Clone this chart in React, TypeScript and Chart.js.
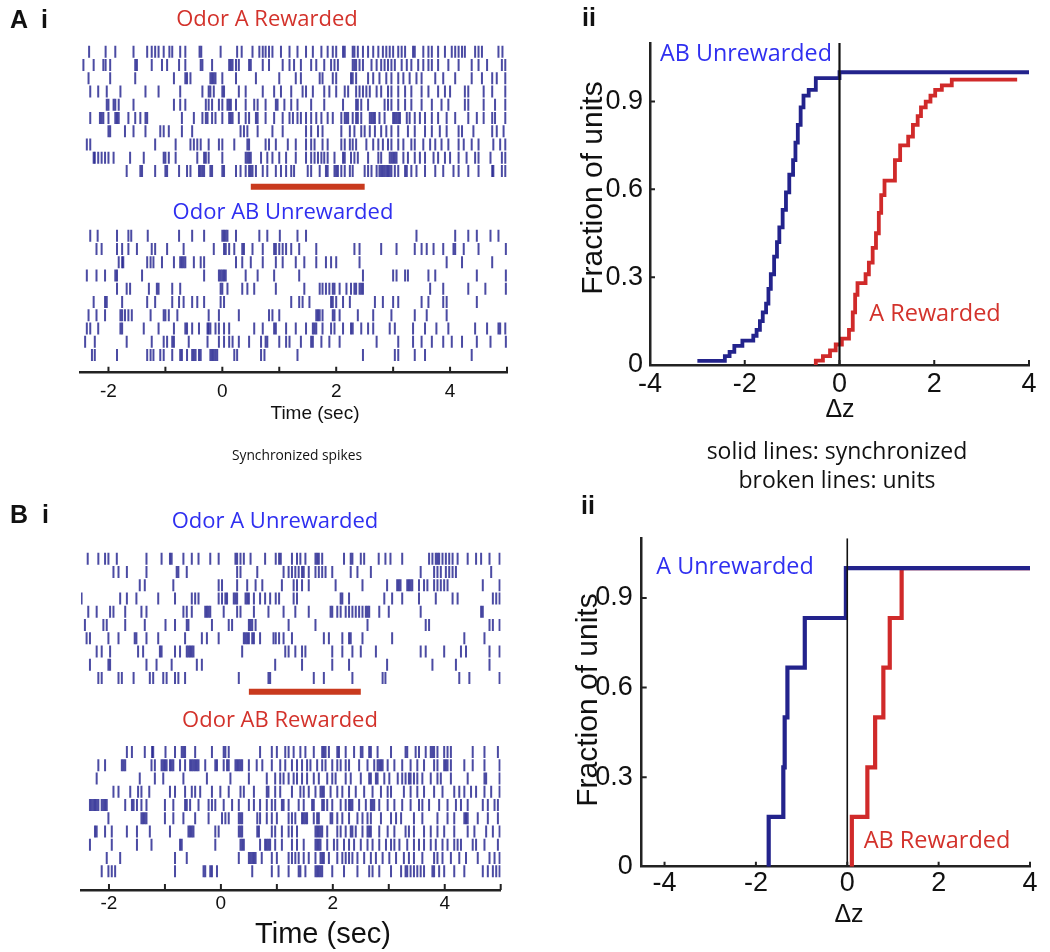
import React, { useEffect, useRef } from 'react';
import { Chart, registerables } from 'chart.js';

Chart.register(...registerables);

// ---------- axis ticks ----------
const timeTicks = [-2, -1, 0, 1, 2, 3, 4, 5];
const cdfXTicks = [-4, -2, 0, 2, 4];
const cdfYTicks = [0, 0.3, 0.6, 0.9];
const odorWindow = [0.5, 2.5];

// ---------- A i : spike times (s), one list per trial row ----------
const aRewardedRows: number[][] = [
  [-2.34,-2.05,-1.88,-1.56,-1.32,-1.24,-1.18,-1.12,-1.03,-0.93,-0.88,-0.74,-0.65,-0.4,-0.37,-0.03,0.26,0.34,0.53,0.65,0.71,0.76,0.82,0.88,1.03,1.18,1.32,1.47,1.59,1.74,1.85,1.94,2.0,2.12,2.15,2.29,2.32,2.38,2.47,2.56,2.65,2.74,2.82,2.88,2.94,3.0,3.09,3.15,3.21,3.35,3.38,3.53,3.62,3.68,3.79,3.91,4.03,4.09,4.15,4.21,4.26,4.44,4.5,4.56,4.85,4.92],
  [-2.44,-2.26,-2.09,-2.05,-1.97,-1.53,-1.5,-1.24,-1.06,-0.97,-0.76,-0.65,-0.38,-0.35,-0.18,0.12,0.15,0.18,0.24,0.29,0.47,0.5,0.71,0.82,1.06,1.18,1.26,1.38,1.56,1.65,1.79,1.91,1.97,2.03,2.29,2.32,2.35,2.41,2.47,2.62,2.71,2.79,2.85,2.91,2.97,3.03,3.15,3.24,3.32,3.44,3.53,3.62,3.68,3.79,3.97,4.15,4.38,4.5,4.65,4.91,4.97],
  [-2.35,-1.97,-1.53,-0.85,-0.65,-0.62,-0.56,-0.21,-0.18,-0.15,-0.12,0,0.24,0.59,1.0,1.29,1.38,1.71,1.76,1.94,2.0,2.26,2.29,2.35,2.56,2.65,2.76,2.88,2.97,3.09,3.18,3.29,3.41,3.5,3.74,3.88,4.09,4.38,4.56,4.74,4.82,4.97],
  [-2.32,-2.18,-2.03,-1.79,-1.35,-1.12,-0.74,-0.35,-0.24,-0.21,-0.15,0,0.03,0.29,0.41,0.71,0.91,1.03,1.21,1.41,1.47,1.59,1.79,1.88,2.0,2.15,2.21,2.35,2.41,2.47,2.53,2.59,2.71,2.79,2.91,2.97,3.09,3.21,3.32,3.5,3.62,3.79,3.91,4.0,4.26,4.32,4.59,4.74,4.97],
  [-2.03,-2.0,-1.91,-1.88,-1.82,-1.56,-0.85,-0.74,-0.65,-0.29,-0.24,-0.18,-0.06,0,0.09,0.12,0.15,0.24,0.41,0.56,0.62,0.76,0.94,0.97,1.09,1.21,1.32,1.56,1.79,2.12,2.35,2.38,2.44,2.56,2.85,2.91,2.97,3.09,3.21,3.32,3.5,3.68,3.85,3.97,4.26,4.32,4.59,4.79,4.97],
  [-2.32,-2.15,-2.12,-2.09,-2.0,-1.88,-1.85,-1.82,-1.65,-1.53,-1.44,-1.35,-1.32,-0.71,-0.5,-0.35,-0.29,-0.26,-0.18,-0.12,0,0.12,0.15,0.18,0.29,0.41,0.47,0.59,0.62,0.76,0.91,1.06,1.18,1.24,1.32,1.38,1.47,1.56,1.65,1.74,1.85,1.94,2.09,2.15,2.18,2.21,2.29,2.35,2.38,2.44,2.59,2.62,2.65,2.68,2.76,2.85,3.0,3.03,3.06,3.09,3.12,3.24,3.29,3.38,3.47,3.56,3.68,3.79,3.94,4.09,4.32,4.47,4.59,4.74,4.79,4.97],
  [-2.0,-1.97,-1.71,-1.56,-1.35,-1.09,-1.03,-0.94,-0.71,-0.53,0.32,0.38,0.44,0.62,0.88,1.06,1.47,1.56,1.68,1.76,2.09,2.24,2.32,2.44,2.5,2.59,2.68,2.79,2.88,2.97,3.09,3.26,3.38,3.56,3.68,3.82,3.94,4.15,4.21,4.41,4.74,4.82,4.94],
  [-2.38,-2.32,-1.18,-0.82,-0.56,-0.5,-0.44,-0.38,-0.24,-0.06,0,0.21,0.44,0.47,0.76,0.82,0.94,1.15,1.29,1.47,1.56,1.62,1.76,1.85,2.09,2.15,2.24,2.29,2.35,2.53,2.65,2.74,2.82,2.91,2.97,3.09,3.18,3.32,3.38,3.53,3.65,3.74,3.85,3.97,4.15,4.24,4.38,4.5,4.76,4.88,4.97],
  [-2.26,-2.24,-2.18,-2.12,-2.06,-2.0,-1.91,-1.62,-1.38,-1.03,-1.0,-0.94,-0.82,-0.44,-0.32,-0.29,-0.24,0,0.41,0.44,0.47,0.5,0.68,0.79,0.88,1.0,1.12,1.29,1.47,1.56,1.62,1.68,1.74,1.79,1.85,1.97,2.12,2.15,2.26,2.32,2.38,2.56,2.74,2.79,2.94,2.97,3.0,3.03,3.06,3.18,3.26,3.38,3.47,3.56,3.71,3.79,3.91,4.0,4.15,4.29,4.44,4.5,4.71,4.91,4.97],
  [-1.68,-1.44,-1.41,-1.18,-1.0,-0.97,-0.76,-0.62,-0.56,-0.41,-0.38,-0.35,-0.32,-0.21,-0.18,0,0.03,0.24,0.32,0.41,0.47,0.5,0.53,0.59,0.71,0.79,0.94,1.03,1.12,1.21,1.26,1.5,1.56,1.71,1.82,1.85,1.97,2.0,2.03,2.09,2.15,2.24,2.29,2.5,2.56,2.62,2.71,2.76,2.79,2.82,2.85,2.88,2.91,2.94,2.97,3.03,3.09,3.21,3.24,3.32,3.41,3.56,3.74,3.88,4.06,4.15,4.32,4.5,4.74,4.76,4.91,4.97],
];

const abUnrewardedRows: number[][] = [
  [-2.32,-2.19,-1.85,-1.65,-1.6,-1.31,-0.76,-0.53,-0.32,0,0.03,0.06,0.09,0.24,0.65,0.79,1.01,1.32,1.47,3.41,4.09,4.32,4.47,4.71,4.85],
  [-2.21,-2.12,-1.85,-1.76,-1.65,-1.5,-1.24,-1.18,-0.97,-0.68,-0.15,0.03,0.06,0.12,0.21,0.35,0.38,0.53,0.71,0.91,0.94,1.0,1.06,1.12,1.21,1.35,1.65,2.32,2.41,2.79,3.06,3.38,3.5,3.59,3.71,3.88,4.06,4.09,4.24,4.5,4.98],
  [-1.82,-1.76,-1.74,-1.32,-1.26,-1.21,-1.06,-0.85,-0.74,-0.71,-0.68,-0.65,-0.5,-0.38,-0.32,0.24,0.35,0.5,0.71,0.94,1.06,1.29,1.44,1.65,1.82,1.91,2.0,2.41,3.94,4.21,4.74],
  [-2.38,-2.21,-2.06,-1.88,-1.85,-1.41,-0.32,-0.06,-0.03,0,0.03,0.06,0.41,0.62,0.91,1.35,2.47,3.0,3.06,3.21,3.26,3.62,3.74,4.47,4.98],
  [-1.85,-1.68,-1.62,-1.29,-1.15,-1.12,-0.88,-0.74,-0.03,0,0.09,0.35,0.44,0.56,0.94,1.44,1.71,1.76,1.82,1.88,1.94,1.97,2.06,2.18,2.26,2.32,2.35,2.41,2.44,2.47,3.65,3.88,4.32,4.62,4.98],
  [-2.26,-2.06,-2.03,-1.76,-1.32,-1.18,-0.88,-0.76,-0.68,-0.53,-0.44,-0.32,-0.03,0.03,1.21,1.35,1.41,1.53,1.91,1.94,2.0,2.12,2.24,2.68,2.82,3.0,3.09,3.5,3.62,3.88,3.94,4.47],
  [-2.35,-2.21,-2.06,-1.79,-1.76,-1.71,-1.65,-1.59,-1.26,-1.03,-1.0,-0.94,-0.79,-0.24,-0.06,0.29,0.82,0.88,1.0,1.65,1.68,1.71,1.76,1.94,1.97,2.06,2.38,2.65,2.97,3.38,3.59,3.94],
  [-2.38,-2.32,-2.18,-1.79,-1.76,-1.38,-1.12,-0.85,-0.65,-0.62,-0.53,-0.41,-0.26,-0.24,-0.21,-0.12,-0.06,0.03,0.12,0.56,0.71,0.91,0.94,1.12,1.29,1.47,1.59,1.62,1.65,1.76,1.91,1.97,2.12,2.26,2.29,2.44,2.56,2.65,2.94,3.03,3.35,3.56,3.76,3.97,4.44,4.65,4.85,4.88,4.97],
  [-2.41,-2.24,-1.68,-1.24,-1.03,-0.97,-0.88,-0.85,-0.59,-0.26,-0.06,0.03,0.12,0.18,0.29,0.47,0.68,0.76,0.79,1.0,1.12,1.18,1.38,1.56,1.59,1.74,1.88,2.06,2.71,3.09,3.35,3.5,3.68,3.88,4.03,4.21,4.47,4.71,4.98],
  [-2.29,-2.24,-1.85,-1.32,-1.26,-1.21,-1.09,-1.03,-0.88,-0.74,-0.71,-0.62,-0.53,-0.5,-0.47,-0.41,-0.38,-0.21,-0.18,-0.15,-0.12,-0.09,0.21,0.26,0.68,0.74,1.32,2.47,3.03,3.09,3.38,3.56,4.38],
];

// ---------- B i ----------
const aUnrewardedRows: number[][] = [
  [-2.38,-2.19,-2.07,-2.01,-1.86,-1.33,-1.06,-0.91,-0.88,-0.67,-0.52,-0.4,-0.19,-0.04,0.26,0.29,0.35,0.41,0.53,0.79,0.98,1.04,1.07,1.27,1.36,1.42,1.51,1.69,1.72,1.75,1.81,2.2,2.32,2.35,2.5,2.56,2.82,2.94,3.03,3.24,3.72,3.78,3.84,3.87,3.9,3.96,4.02,4.08,4.14,4.23,4.41,4.56,4.65,4.8,4.98],
  [-1.92,-1.83,-1.68,-1.33,-0.79,-0.76,-0.61,0.29,0.35,0.65,1.12,1.21,1.27,1.33,1.39,1.45,1.48,1.57,1.69,1.75,1.81,1.87,1.99,2.32,2.44,2.68,3.57,3.81,3.87,3.93,4.02,4.08,4.14,4.2,4.83],
  [-1.45,-1.36,-0.85,-0.04,0.02,0.29,0.47,0.62,0.74,1.09,1.3,1.36,1.45,1.57,2.05,2.53,2.97,3.15,3.18,3.21,3.33,3.36,3.39,3.42,3.54,3.63,3.69,3.81,3.87,3.93,3.99,4.05,4.68,4.98],
  [-2.49,-1.8,-1.68,-1.51,-1.12,-0.82,-0.52,-0.46,-0.4,-0.04,0.02,0.08,0.11,0.23,0.26,0.29,0.44,0.47,0.5,0.59,0.7,0.79,0.88,0.98,1.04,1.3,1.36,2.14,2.17,2.29,2.92,3.06,3.24,3.54,3.84,4.14,4.23,4.86,4.92,4.98],
  [-2.37,-2.22,-1.98,-1.92,-1.71,-1.42,-1.33,-0.67,-0.61,-0.52,-0.28,-0.25,-0.22,-0.19,0.05,0.29,0.35,0.59,0.85,1.12,1.33,1.57,1.96,1.99,2.08,2.14,2.23,2.29,2.35,2.41,2.47,2.53,2.59,2.62,2.65,2.83,3.0,3.57,4.65,4.68],
  [-2.43,-2.1,-2.04,-1.71,-1.36,-0.99,-0.82,-0.61,-0.58,-0.16,0.14,0.2,0.5,0.53,0.56,0.62,1.21,1.69,2.62,3.66,3.72,4.8,4.86,4.98],
  [-2.4,-2.34,-2.01,-1.83,-1.54,-1.51,-1.33,-1.12,-0.64,-0.34,-0.25,-0.04,0.41,0.44,0.47,0.5,0.56,0.59,0.7,0.94,0.98,1.04,1.12,1.27,1.84,1.93,2.17,2.29,2.32,2.53,3.06,4.35,4.71],
  [-2.22,-2.13,-1.98,-1.48,-1.39,-1.09,-1.06,-0.82,-0.73,-0.61,-0.58,-0.55,-0.52,-0.49,0.38,1.15,1.21,1.33,1.45,1.51,1.99,2.17,2.35,2.5,2.77,3.57,3.66,3.99,4.29,4.38,4.8,4.98],
  [-2.34,-2.01,-1.98,-1.33,-1.15,-0.88,-0.43,-0.34,0.97,1.45,1.99,2.29,2.97,3.78,4.2,4.8],
  [-2.19,-2.13,-1.83,-1.77,-1.56,-1.27,-1.21,-1.03,-0.97,-0.82,-0.76,-0.64,0.32,0.85,0.88,1.66,1.84,2.35,2.89,2.94,4.26,4.44,4.98],
];

const abRewardedRows: number[][] = [
  [-1.68,-1.59,-1.36,-1.23,-1.21,-0.99,-0.82,-0.7,-0.67,-0.64,-0.46,-0.16,0.05,0.08,0.14,0.7,0.91,1.0,1.15,1.21,1.3,1.42,1.51,1.66,1.81,1.84,1.87,1.93,2.08,2.11,2.23,2.38,2.5,2.53,2.65,2.68,2.8,3.04,3.3,3.33,3.48,3.54,3.66,3.75,3.78,3.81,3.87,3.99,4.05,4.11,4.5,4.71,4.95],
  [-2.19,-2.07,-1.77,-1.74,-1.71,-1.24,-1.18,-1.06,-1.03,-1.0,-0.97,-0.91,-0.88,-0.85,-0.73,-0.64,-0.55,-0.52,-0.49,-0.46,-0.43,-0.4,-0.28,-0.1,-0.07,0.05,0.11,0.14,0.26,0.29,0.32,0.35,0.38,0.5,0.64,0.74,0.91,1.06,1.15,1.27,1.36,1.45,1.54,1.6,1.72,1.81,1.87,1.99,2.08,2.14,2.23,2.29,2.47,2.62,2.74,2.8,2.83,2.86,2.89,2.98,3.1,3.24,3.39,3.51,3.63,3.81,3.87,3.99,4.02,4.05,4.11,4.35,4.5,4.71,4.98],
  [-2.22,-1.45,-1.18,-1.03,-0.67,-0.25,0.17,0.5,0.82,0.97,1.06,1.12,1.21,1.3,1.36,1.45,1.54,1.66,1.75,1.9,1.99,2.05,2.23,2.32,2.5,2.65,2.68,2.77,2.8,2.92,3.01,3.16,3.24,3.3,3.36,3.39,3.45,3.51,3.6,3.75,3.87,3.93,4.11,4.41,4.71,4.74,4.98],
  [-1.92,-1.83,-1.62,-1.48,-1.42,-1.28,-0.91,-0.82,-0.64,-0.52,-0.46,-0.37,-0.16,-0.01,0.14,0.35,0.41,0.59,0.82,0.85,0.97,1.06,1.27,1.42,1.48,1.57,1.69,1.78,1.81,1.84,1.96,2.08,2.17,2.29,2.41,2.56,2.71,2.86,2.98,3.04,3.27,3.39,3.51,3.63,3.81,3.96,4.17,4.26,4.35,4.47,4.56,4.71,4.83,4.98],
  [-2.34,-2.31,-2.28,-2.25,-2.22,-2.19,-2.13,-2.1,-2.07,-2.04,-1.71,-1.59,-1.56,-1.5,-1.42,-1.33,-1.0,-0.85,-0.64,-0.61,-0.55,-0.4,-0.22,-0.16,-0.1,0.05,0.2,0.32,0.5,0.59,0.7,0.82,0.91,0.97,1.09,1.12,1.21,1.39,1.48,1.63,1.66,1.81,1.84,1.9,1.99,2.14,2.23,2.29,2.32,2.35,2.47,2.59,2.68,2.71,2.74,2.83,2.98,3.1,3.24,3.39,3.54,3.6,3.72,3.9,4.05,4.2,4.29,4.41,4.68,4.77,4.89,4.95],
  [-2.01,-1.42,-1.39,-1.36,-1.33,-1.0,-0.85,-0.67,-0.46,-0.22,0.02,0.08,0.14,0.32,0.35,0.38,0.65,0.7,0.82,0.91,1.0,1.21,1.27,1.33,1.45,1.48,1.51,1.54,1.66,1.72,1.75,1.96,1.99,2.08,2.17,2.29,2.44,2.53,2.62,2.68,2.86,3.04,3.13,3.22,3.45,3.6,3.87,4.05,4.17,4.35,4.38,4.41,4.59,4.77,4.95],
  [-2.25,-2.22,-2.07,-1.95,-1.68,-1.5,-1.27,-0.91,-0.58,-0.55,-0.52,-0.49,-0.1,-0.04,0.32,0.35,0.38,0.65,0.68,0.91,0.97,1.09,1.21,1.27,1.36,1.69,1.72,1.75,1.78,1.81,1.9,2.08,2.14,2.23,2.32,2.35,2.41,2.53,2.62,2.65,2.68,2.83,2.98,3.1,3.3,3.36,3.45,3.63,3.75,3.87,3.99,4.17,4.41,4.53,4.74,4.86,4.98],
  [-2.34,-1.95,-1.5,-1.24,-0.73,-0.7,-0.1,0.35,0.38,0.41,0.7,0.79,0.82,0.85,0.88,0.97,1.09,1.27,1.36,1.48,1.69,1.72,1.75,1.78,1.9,2.02,2.08,2.2,2.29,2.38,2.5,2.62,2.71,2.83,2.95,3.04,3.1,3.19,3.33,3.45,3.54,3.63,3.75,3.84,3.96,4.05,4.17,4.23,4.29,4.5,4.56,4.71,4.95],
  [-2.04,-1.8,-0.82,-0.61,0.32,0.5,0.53,0.56,0.59,0.62,0.73,0.91,1.0,1.21,1.27,1.33,1.39,1.48,1.57,1.69,1.78,1.81,1.84,1.93,2.08,2.17,2.23,2.29,2.35,2.44,2.56,2.68,2.77,2.89,3.01,3.13,3.27,3.36,3.45,3.6,3.81,3.87,3.96,4.11,4.26,4.38,4.59,4.8,4.89,4.98],
  [-2.13,-2.01,-1.95,-1.89,-0.82,-0.31,-0.28,-0.19,-0.16,-0.07,0.56,0.91,1.03,1.21,1.39,1.42,1.51,1.69,1.72,1.75,1.78,1.81,1.99,2.2,2.44,2.65,2.71,2.83,3.04,3.22,3.3,3.33,3.39,3.45,3.51,3.57,3.63,3.78,3.81,3.9,3.99,4.17,4.35,4.68,4.77,4.86,4.92,4.98],
];

// ---------- A ii : cumulative fraction of units vs Δz ----------
const aiiUnrewardedDz = [-3.0,-2.42,-2.32,-2.22,-2.05,-1.82,-1.75,-1.68,-1.62,-1.55,-1.5,-1.45,-1.38,-1.32,-1.27,-1.2,-1.13,-1.06,-0.98,-0.93,-0.88,-0.82,-0.76,-0.65,-0.5,0.0,4.0];
const aiiUnrewardedFrac = [0.014,0.03,0.045,0.065,0.083,0.1,0.12,0.15,0.18,0.21,0.26,0.31,0.37,0.42,0.47,0.53,0.59,0.65,0.7,0.76,0.82,0.88,0.92,0.94,0.98,1.0,1.0];
const aiiRewardedDz = [-0.52,-0.5,-0.35,-0.2,-0.08,0.05,0.2,0.28,0.33,0.38,0.55,0.62,0.7,0.77,0.83,0.88,0.95,1.17,1.28,1.45,1.55,1.65,1.72,1.82,1.92,2.02,2.16,2.37,3.75];
const aiiRewardedFrac = [0.0,0.015,0.03,0.05,0.07,0.09,0.12,0.18,0.24,0.28,0.31,0.35,0.4,0.45,0.52,0.58,0.63,0.7,0.75,0.78,0.82,0.85,0.88,0.9,0.92,0.94,0.955,0.975,0.975];

// ---------- B ii ----------
const biiUnrewardedDz = [-1.72,-1.72,-1.4,-1.37,-1.31,-0.93,-0.03,4.0];
const biiUnrewardedFrac = [0,0.167,0.333,0.5,0.667,0.833,1.0,1.0];
const biiRewardedDz = [0.1,0.1,0.44,0.61,0.79,0.93,1.19,4.0];
const biiRewardedFrac = [0,0.167,0.333,0.5,0.667,0.833,1.0,1.0];

// ---------- styles ----------
const SPIKE = 'rgba(30,30,140,0.8)';
const BAR = '#c93a1e';
const NAVY = '#23238c';
const RED = '#d02a2a';
const TXT_BLUE = '#2f2ff0';
const TXT_RED = '#d3322b';
const AXIS = '#222';
const TICK_FONT = "'Liberation Sans', Arial, Helvetica, sans-serif";
const NARROW_FONT = "'Liberation Sans Narrow', 'Arial Narrow', 'Liberation Sans', sans-serif";
const MYRIAD = "'Open Sans', 'Noto Sans', sans-serif";

const inwardTicks = {
  id: 'inwardTicks',
  afterDatasetsDraw(chart: any, _a: any, opts: any) {
    if (!opts || !opts.len) return;
    const { ctx, chartArea, scales } = chart;
    ctx.save();
    ctx.strokeStyle = opts.color || AXIS;
    ctx.lineWidth = opts.width || 2;
    ctx.beginPath();
    (opts.x || []).forEach((v: number) => {
      const px = scales.x.getPixelForValue(v);
      ctx.moveTo(px, chartArea.bottom);
      ctx.lineTo(px, chartArea.bottom - opts.len);
    });
    (opts.y || []).forEach((v: number) => {
      const py = scales.y.getPixelForValue(v);
      ctx.moveTo(chartArea.left, py);
      ctx.lineTo(chartArea.left + opts.len, py);
    });
    ctx.stroke();
    ctx.restore();
  },
};

const rowPoints = (rows: number[][], firstRow: number) =>
  rows.flatMap((row, k) => row.map((x) => ({ x, y: firstRow + k })));

const toPoints = (xs: number[], ys: number[]) => xs.map((x, i) => ({ x, y: ys[i] }));

type Area = { l: number; r: number; t: number; b: number };

function rasterConfig(p: {
  width: number; height: number; area: Area; pitch: number;
  topRows: number[][]; bottomRows: number[][]; bottomFirst: number; barY: number; tickPad: number;
}): any {
  const yMax = (p.area.b - p.area.t) / p.pitch;
  const spikeStyle = {
    type: 'scatter', pointStyle: 'line', rotation: 90, pointRadius: 6,
    borderColor: SPIKE, backgroundColor: SPIKE, borderWidth: 2, pointHoverRadius: 6,
  };
  return {
    type: 'scatter',
    data: {
      datasets: [
        { ...spikeStyle, data: rowPoints(p.topRows, 0.5) },
        { ...spikeStyle, data: rowPoints(p.bottomRows, p.bottomFirst) },
        {
          type: 'line', data: [{ x: odorWindow[0], y: p.barY }, { x: odorWindow[1], y: p.barY }],
          borderColor: BAR, borderWidth: 6, pointRadius: 0, borderCapStyle: 'butt',
        },
      ],
    },
    options: {
      responsive: false, animation: false, events: [],
      layout: { padding: { left: p.area.l, right: p.width - p.area.r, top: p.area.t, bottom: 0 } },
      plugins: {
        legend: { display: false }, tooltip: { enabled: false },
        inwardTicks: { x: timeTicks, len: 6, width: 2, color: AXIS },
      },
      scales: {
        x: {
          type: 'linear', min: -2.5, max: 5,
          afterBuildTicks: (s: any) => { s.ticks = timeTicks.map((v) => ({ value: v })); },
          afterFit: (s: any) => { s.height = p.height - p.area.b; },
          grid: { display: false, drawTicks: false },
          border: { display: true, color: AXIS, width: 2.5 },
          ticks: {
            autoSkip: false, maxRotation: 0, padding: p.tickPad, color: '#111',
            font: { family: TICK_FONT, size: 19 },
            callback: (v: number) => (v % 2 === 0 ? String(v) : ''),
          },
        },
        y: { type: 'linear', min: 0, max: yMax, reverse: true, display: false },
      },
    },
    plugins: [inwardTicks],
  };
}

function cdfConfig(p: {
  width: number; height: number; area: Area; xMin: number;
  blue: { x: number; y: number }[]; red: { x: number; y: number }[];
  lineWidth: number; zeroWidth: number; padX: number; padY: number;
}): any {
  return {
    type: 'line',
    data: {
      datasets: [
        { data: [{ x: 0, y: 0 }, { x: 0, y: 1.1 }], borderColor: '#111', borderWidth: p.zeroWidth, pointRadius: 0 },
        { data: p.blue, borderColor: NAVY, borderWidth: p.lineWidth, pointRadius: 0, stepped: 'before' },
        { data: p.red, borderColor: RED, borderWidth: p.lineWidth, pointRadius: 0, stepped: 'before' },
      ],
    },
    options: {
      responsive: false, animation: false, events: [],
      layout: { padding: { left: 0, right: p.width - p.area.r, top: p.area.t, bottom: 0 } },
      plugins: {
        legend: { display: false }, tooltip: { enabled: false },
        inwardTicks: { x: cdfXTicks, y: cdfYTicks.slice(1), len: 5, width: 2, color: AXIS },
      },
      scales: {
        x: {
          type: 'linear', min: p.xMin, max: 4,
          afterBuildTicks: (s: any) => { s.ticks = cdfXTicks.map((v) => ({ value: v })); },
          afterFit: (s: any) => { s.height = p.height - p.area.b; },
          grid: { display: false, drawTicks: false },
          border: { display: true, color: AXIS, width: 2.5 },
          ticks: {
            autoSkip: false, maxRotation: 0, padding: p.padX, color: '#111',
            font: { family: NARROW_FONT, size: 27 },
            callback: (v: number) => String(v),
          },
        },
        y: {
          type: 'linear', min: 0, max: 1.1,
          afterBuildTicks: (s: any) => { s.ticks = cdfYTicks.map((v) => ({ value: v })); },
          afterFit: (s: any) => { s.width = p.area.l; },
          grid: { display: false, drawTicks: false },
          border: { display: true, color: AXIS, width: 2.5 },
          ticks: {
            autoSkip: false, padding: p.padY, color: '#111',
            font: { family: NARROW_FONT, size: 27 },
            callback: (v: number) => (v === 0 ? '0' : v.toFixed(1)),
          },
        },
      },
    },
    plugins: [inwardTicks],
  };
}

function ChartBox({ left, top, width, height, make }: { left: number; top: number; width: number; height: number; make: () => any }) {
  const ref = useRef<HTMLCanvasElement>(null);
  useEffect(() => {
    const chart = new Chart(ref.current as HTMLCanvasElement, make());
    return () => chart.destroy();
  }, []);
  return (
    <canvas ref={ref} width={width} height={height}
      style={{ position: 'absolute', left, top, width, height, display: 'block' }} />
  );
}

function Label(props: {
  text: string; cx: number; cy: number; size: number; color?: string; family?: string;
  bold?: boolean; rotate?: boolean; left?: boolean;
}) {
  const { text, cx, cy, size, color = '#111', family = MYRIAD, bold, rotate, left } = props;
  return (
    <div style={{
      position: 'absolute', left: cx, top: cy, whiteSpace: 'pre', lineHeight: 1,
      fontSize: size, fontFamily: family, color, fontWeight: bold ? 700 : 400,
      transform: left ? 'translate(0,-50%)' : `translate(-50%,-50%)${rotate ? ' rotate(-90deg)' : ''}`,
    }}>{text}</div>
  );
}

export default function App() {
  return (
    <div style={{ position: 'absolute', left: 0, top: 0, width: 1050, height: 952, background: '#fff', overflow: 'hidden' }}>
      <ChartBox left={0} top={0} width={560} height={430} make={() => rasterConfig({
        width: 560, height: 430, area: { l: 80, r: 507, t: 45, b: 372.7 }, pitch: 13.26,
        topRows: aRewardedRows, bottomRows: abUnrewardedRows, bottomFirst: 14.38, barY: 10.69, tickPad: 8,
      })} />
      <ChartBox left={0} top={480} width={560} height={472} make={() => rasterConfig({
        width: 560, height: 472, area: { l: 81, r: 500.7, t: 72, b: 410 }, pitch: 13.26,
        topRows: aUnrewardedRows, bottomRows: abRewardedRows, bottomFirst: 15.08, barY: 10.54, tickPad: 2,
      })} />
      <ChartBox left={570} top={0} width={480} height={470} make={() => cdfConfig({
        width: 480, height: 470, area: { l: 80, r: 459, t: 43, b: 365 }, xMin: -4,
        blue: toPoints(aiiUnrewardedDz, aiiUnrewardedFrac), red: toPoints(aiiRewardedDz, aiiRewardedFrac),
        lineWidth: 3.8, zeroWidth: 2.2, padX: 3, padY: 7,
      })} />
      <ChartBox left={570} top={480} width={480} height={472} make={() => cdfConfig({
        width: 480, height: 472, area: { l: 71.7, r: 460, t: 58.3, b: 386.7 }, xMin: -4.5,
        blue: toPoints(biiUnrewardedDz, biiUnrewardedFrac), red: toPoints(biiRewardedDz, biiRewardedFrac),
        lineWidth: 4.2, zeroWidth: 1.6, padX: 1, padY: 9,
      })} />

      <Label text={'A  i'} cx={10} cy={19} size={25} bold family={TICK_FONT} left />
      <Label text={'ii'} cx={582} cy={17} size={25} bold family={TICK_FONT} left />
      <Label text={'B  i'} cx={10} cy={514} size={25} bold family={TICK_FONT} left />
      <Label text={'ii'} cx={581} cy={505} size={25} bold family={TICK_FONT} left />

      <Label text="Odor A Rewarded" cx={267} cy={17} size={22} color={TXT_RED} />
      <Label text="Odor AB Unrewarded" cx={283} cy={210} size={22} color={TXT_BLUE} />
      <Label text="Time (sec)" cx={315} cy={412} size={19} family={TICK_FONT} />
      <Label text="Synchronized spikes" cx={297} cy={455} size={13.8} />

      <Label text="AB Unrewarded" cx={746} cy={53} size={23.3} color={TXT_BLUE} />
      <Label text="A Rewarded" cx={935} cy={313} size={23.5} color={TXT_RED} />
      <Label text="Δz" cx={840} cy={408} size={25} family={TICK_FONT} />
      <Label text="Fraction of units" cx={592} cy={188} size={30} family={TICK_FONT} rotate />
      <Label text="solid lines: synchronized" cx={837} cy={450} size={23} />
      <Label text="broken lines: units" cx={837} cy={479} size={23} />

      <Label text="Odor A Unrewarded" cx={275} cy={519} size={22} color={TXT_BLUE} />
      <Label text="Odor AB Rewarded" cx={280} cy={718} size={22} color={TXT_RED} />
      <Label text="Time (sec)" cx={323} cy={933} size={29} family={TICK_FONT} />

      <Label text="A Unrewarded" cx={735} cy={566} size={23.4} color={TXT_BLUE} />
      <Label text="AB Rewarded" cx={937} cy={840} size={23.5} color={TXT_RED} />
      <Label text="Δz" cx={849} cy={913} size={25} family={TICK_FONT} />
      <Label text="Fraction of units" cx={587} cy={700} size={30} family={TICK_FONT} rotate />
    </div>
  );
}
